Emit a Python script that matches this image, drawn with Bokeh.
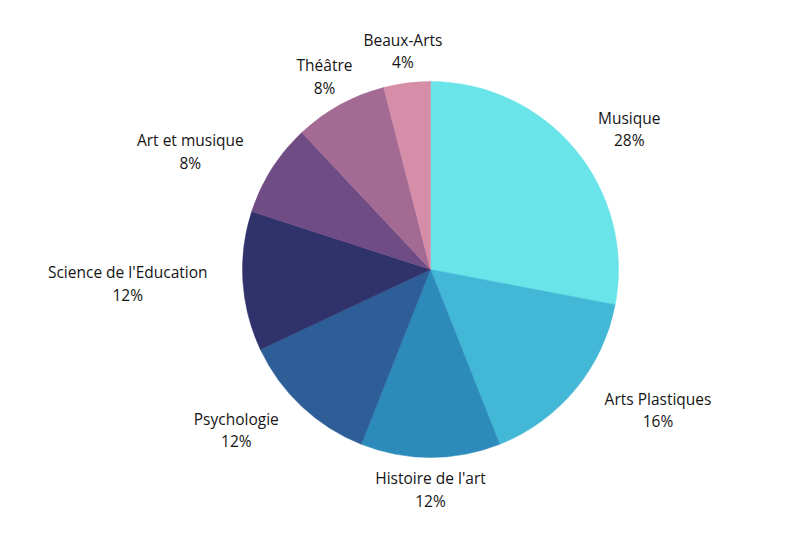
import numpy as np
from bokeh.plotting import figure
from bokeh.models import ColumnDataSource, Range1d
from bokeh.core.properties import value
from bokeh.embed import file_html
from bokeh.resources import INLINE

categories = ["Musique", "Arts Plastiques", "Histoire de l'art", "Psychologie",
              "Science de l'Education", "Art et musique", "Théâtre", "Beaux-Arts"]
shares = [28, 16, 12, 12, 12, 8, 8, 4]
colors = ["#69E4E8", "#42B7D6", "#2D8BBB", "#2D5E98",
          "#30336B", "#704C85", "#A36A94", "#D58DA8"]

W, H = 779, 523
cx, cy, R = 430, 254, 188
label_r = 220

vals = np.array(shares, dtype=float)
frac = vals / vals.sum()
cum_end = np.cumsum(frac)
cum_start = cum_end - frac
start = np.pi / 2 - cum_start * 2 * np.pi
end = np.pi / 2 - cum_end * 2 * np.pi
mid_theta = (cum_start + cum_end) / 2 * 2 * np.pi  # clockwise from top

lx, ly, txt = [], [], []
for name, s, th in zip(categories, shares, mid_theta):
    dx, dy = np.sin(th), np.cos(th)
    hw = (7.2 * len(name) + 8) / 2
    off = np.sign(dx) * hw if abs(dx) > 0.6 else 0.0
    lx.append(cx + label_r * dx + off)
    ly.append(cy + label_r * dy)
    txt.append(f"{name}\n{s}%")

src = ColumnDataSource(dict(start=start, end=end, color=colors))
lsrc = ColumnDataSource(dict(x=lx, y=ly, text=txt))

p = figure(width=W, height=H, output_backend="svg", toolbar_location=None,
           x_range=Range1d(0, W), y_range=Range1d(0, H),
           min_border=0, outline_line_color=None)
p.axis.visible = False
p.grid.visible = False
p.background_fill_color = "white"
p.border_fill_color = "white"

p.wedge(x=cx, y=cy, radius=R, start_angle="start", end_angle="end",
        direction="clock", fill_color="color", line_color="color",
        line_width=0.5, source=src)

p.text(x="x", y="y", text="text", source=lsrc, text_align="center",
       text_baseline="middle", text_font=value("Open Sans"),
       text_font_size="15.5px", text_color="#151515", text_line_height=1.02)

open("out.html", "w").write(file_html(p, INLINE))
